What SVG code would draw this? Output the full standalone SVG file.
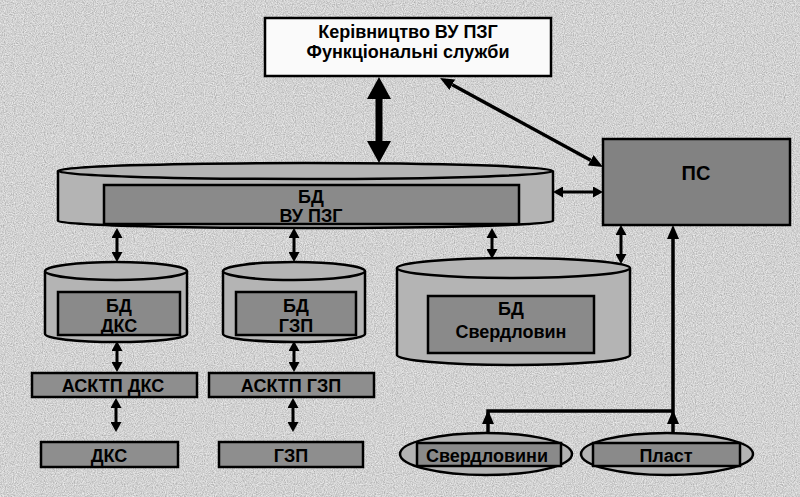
<svg xmlns="http://www.w3.org/2000/svg" width="800" height="497" viewBox="0 0 800 497">
<defs>
<filter id="noise" x="0" y="0" width="100%" height="100%">
<feTurbulence type="fractalNoise" baseFrequency="0.9" numOctaves="2" seed="3" result="n"/>
<feColorMatrix in="n" type="matrix" values="0.8 0 0 0 0.3  0.8 0 0 0 0.3  0.8 0 0 0 0.3  0 0 0 0 1"/>
</filter>
<marker id="big" viewBox="0 0 22 24" refX="0" refY="12" markerWidth="22" markerHeight="24" markerUnits="userSpaceOnUse" orient="auto-start-reverse">
<path d="M0,0 L22,12 L0,24 z" fill="#000"/>
</marker>
<marker id="med" viewBox="0 0 14 12" refX="0" refY="6" markerWidth="14" markerHeight="12" markerUnits="userSpaceOnUse" orient="auto-start-reverse">
<path d="M0,0 L14,6 L0,12 z" fill="#000"/>
</marker>
<marker id="sm" viewBox="0 0 10 11" refX="0" refY="5.5" markerWidth="10" markerHeight="11" markerUnits="userSpaceOnUse" orient="auto-start-reverse">
<path d="M0,0 L10,5.5 L0,11 z" fill="#000"/>
</marker>
</defs>
<style>
text{font-family:"Liberation Sans",Arial,sans-serif;font-weight:bold;fill:#000;text-anchor:middle;}
.t18{font-size:18px;}
.t20{font-size:20px;}
.box{fill:#8e8e8e;stroke:#000;stroke-width:2.5;}
.inner{fill:#8a8a8a;stroke:#000;stroke-width:2.5;}
.cyl{fill:#b4b4b4;stroke:#000;stroke-width:2.5;}
.ln{stroke:#000;stroke-width:3;fill:none;}
.lnb{stroke:#000;stroke-width:7;fill:none;}
.lnm{stroke:#000;stroke-width:3.5;fill:none;}
</style>
<rect x="0" y="0" width="800" height="497" fill="#b3b3b3"/>
<rect x="0" y="0" width="800" height="497" filter="url(#noise)" opacity="0.8"/>

<g id="connectors">
<line class="lnb" x1="379" y1="99" x2="379" y2="141" marker-start="url(#big)" marker-end="url(#big)"/>
<line class="lnm" x1="452.3" y1="84.7" x2="590.7" y2="160.3" marker-start="url(#med)" marker-end="url(#med)"/>
<line class="ln" x1="563" y1="192" x2="593" y2="192" marker-start="url(#sm)" marker-end="url(#sm)"/>
<line class="ln" x1="117" y1="238" x2="117" y2="252" marker-start="url(#sm)" marker-end="url(#sm)"/>
<line class="ln" x1="294" y1="238" x2="294" y2="252" marker-start="url(#sm)" marker-end="url(#sm)"/>
<line class="ln" x1="492" y1="238" x2="492" y2="249" marker-start="url(#sm)" marker-end="url(#sm)"/>
<line class="ln" x1="621" y1="235" x2="621" y2="254" marker-start="url(#sm)" marker-end="url(#sm)"/>
<line class="ln" x1="117" y1="351" x2="117" y2="362" marker-start="url(#sm)" marker-end="url(#sm)"/>
<line class="ln" x1="294" y1="351" x2="294" y2="362" marker-start="url(#sm)" marker-end="url(#sm)"/>
<line class="ln" x1="116" y1="408" x2="116" y2="422" marker-start="url(#sm)" marker-end="url(#sm)"/>
<line class="ln" x1="293" y1="408" x2="293" y2="422" marker-start="url(#sm)" marker-end="url(#sm)"/>
<path class="lnm" d="M488,420 L488,411 L673,411"/>
<line class="lnm" x1="488" y1="433" x2="488" y2="424" marker-end="url(#med)"/>
<line class="lnm" x1="673" y1="433" x2="673" y2="424" marker-end="url(#med)"/>
<line class="lnm" x1="673" y1="424" x2="673" y2="239" marker-end="url(#med)"/>
</g>

<g id="top">
<rect x="265" y="18" width="286" height="58" fill="#fafafa" stroke="#000" stroke-width="2.5"/>
<text class="t18" x="408" y="38">Керівництво ВУ ПЗГ</text>
<text class="t18" x="408" y="58">Функціональні служби</text>
</g>

<g id="ps">
<rect x="603" y="139" width="187" height="86" fill="#828282" stroke="#000" stroke-width="2.5"/>
<text class="t20" x="696" y="180">ПС</text>
</g>

<g id="bd-vu">
<path class="cyl" d="M58,171 L58,221 A247.5,7 0 0 0 553,221 L553,171"/>
<ellipse class="cyl" cx="305.5" cy="171" rx="247.5" ry="8"/>
<rect class="inner" x="104" y="185" width="415" height="39"/>
<text class="t18" x="311" y="203">БД</text>
<text class="t18" x="311" y="222">ВУ ПЗГ</text>
</g>

<g id="bd-dks">
<path class="cyl" d="M45,271 L45,334 A71,8 0 0 0 187,334 L187,271"/>
<ellipse class="cyl" cx="116" cy="271" rx="71" ry="9"/>
<rect class="inner" x="58" y="292" width="122" height="43"/>
<text class="t18" x="119" y="312">БД</text>
<text class="t18" x="119" y="332">ДКС</text>
</g>

<g id="bd-gzp">
<path class="cyl" d="M223,271 L223,334 A71,8 0 0 0 365,334 L365,271"/>
<ellipse class="cyl" cx="294" cy="271" rx="71" ry="9"/>
<rect class="inner" x="236" y="292" width="120" height="43"/>
<text class="t18" x="296" y="312">БД</text>
<text class="t18" x="296" y="332">ГЗП</text>
</g>

<g id="bd-sverd">
<path class="cyl" d="M397,268 L397,355 A116.5,10 0 0 0 630,355 L630,268"/>
<ellipse class="cyl" cx="513.5" cy="268" rx="116.5" ry="10"/>
<rect class="inner" x="428" y="296" width="166" height="57"/>
<text class="t18" x="511" y="315">БД</text>
<text class="t18" x="511" y="338">Свердловин</text>
</g>

<g id="asktp-dks">
<rect class="box" x="32" y="373" width="165" height="24"/>
<text class="t18" x="113" y="392">АСКТП ДКС</text>
</g>
<g id="asktp-gzp">
<rect class="box" x="209" y="373" width="165" height="24"/>
<text class="t18" x="291" y="392">АСКТП ГЗП</text>
</g>
<g id="dks">
<rect class="box" x="41" y="442" width="137" height="25"/>
<text class="t18" x="109" y="462">ДКС</text>
</g>
<g id="gzp">
<rect class="box" x="219" y="442" width="144" height="25"/>
<text class="t18" x="291" y="462">ГЗП</text>
</g>
<g id="sverdlovyny">
<ellipse class="cyl" cx="486" cy="454" rx="86" ry="21"/>
<rect class="inner" x="417" y="443" width="144" height="23"/>
<text class="t18" x="487" y="462">Свердловини</text>
</g>
<g id="plast">
<ellipse class="cyl" cx="667" cy="454" rx="86" ry="21"/>
<rect class="inner" x="593" y="443" width="147" height="23"/>
<text class="t18" x="666" y="462">Пласт</text>
</g>
</svg>
